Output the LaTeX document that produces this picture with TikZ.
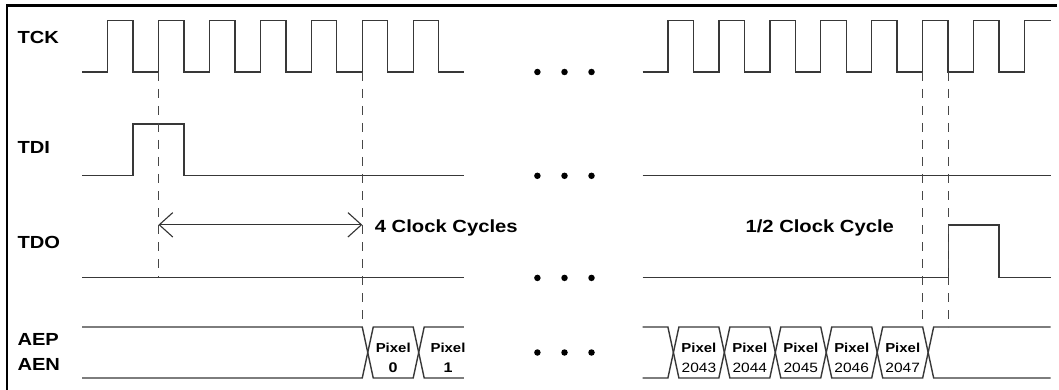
\documentclass[tikz,border=0pt]{standalone}
\usepackage{fontspec}
\newfontfamily\sigfont{Liberation Sans}[FakeStretch=1.15]
\usetikzlibrary{arrows.meta}
\begin{document}
\begin{tikzpicture}[x=1pt,y=-1pt,
  sig/.style={line width=1.4pt, draw=black!78, line join=miter},
  guide/.style={line width=1.2pt, draw=black!72, dash pattern=on 9pt off 8pt},
  lab/.style={inner sep=0pt, anchor=base west, font=\sigfont\fontsize{17.5}{17.5}\selectfont\bfseries},
  note/.style={inner sep=0pt, anchor=base west, font=\sigfont\fontsize{17.6}{17.6}\selectfont\bfseries},
  pixb/.style={inner sep=0pt, anchor=base, font=\sigfont\fontsize{13}{13}\selectfont\bfseries},
  pixd/.style={inner sep=0pt, anchor=base, font=\sigfont\fontsize{14}{14}\selectfont\bfseries},
  pixn/.style={inner sep=0pt, anchor=base, font=\sigfont\fontsize{13.5}{13.5}\selectfont},
  dot/.style={circle, fill=black, inner sep=0pt, minimum size=6.5pt}]
\useasboundingbox (0,0) rectangle (1059,390);
\fill[white] (0,0) rectangle (1059,390);
% frame
\draw[line width=2.2pt] (7,391) -- (7,5.5) -- (1057,5.5);

% labels
\node[lab] (tck) at (17.3,43.3) {TCK};
\node[lab] (tdi) at (17.3,153.8) {TDI};
\node[lab] (tdo) at (17.3,248.1) {TDO};
\node[lab] (aep) at (17.3,345) {AEP};
\node[lab] (aen) at (17.3,370.5) {AEN};

% TCK
\draw[sig] (82.2,72) foreach \k in {0,...,6} { -- ({107.5+50.95*\k},72) -- ++(0,-51.7) -- ++(25.45,0) -- ++(0,51.7) } -- (463.8,72);
\draw[sig] (642.6,72) foreach \k in {0,...,6} { -- ({667.9+50.95*\k},72) -- ++(0,-51.7) -- ++(25.45,0) -- ++(0,51.7) } -- (1024.6,72) -- (1024.6,20.3) -- (1050.6,20.3);

% TDI
\draw[sig] (82.2,175.8) -- (132.95,175.8) -- (132.95,124.1) -- (183.9,124.1) -- (183.9,175.8) -- (463.8,175.8);
\draw[sig] (642.6,175.8) -- (1050.6,175.8);

% TDO
\draw[sig] (82.2,277.2) -- (463.8,277.2);
\draw[sig] (642.6,277.2) -- (948.3,277.2) -- (948.3,224.8) -- (999.05,224.8) -- (999.05,277.2) -- (1050.6,277.2);

% AEP/AEN bus
\draw[sig] (82.2,327) -- (362.25,327) -- (373.25,378) -- (413.2,378) -- (424.2,327) -- (463.8,327);
\draw[sig] (82.2,378) -- (362.25,378) -- (373.25,327) -- (413.2,327) -- (424.2,378) -- (463.8,378);
\draw[sig] (642.6,327) -- (667.9,327) -- (678.9,378) -- (718.85,378) -- (729.85,327) -- (769.8,327) -- (780.8,378) -- (820.75,378) -- (831.75,327) -- (871.7,327) -- (882.7,378) -- (922.65,378) -- (933.65,327) -- (1050.6,327);
\draw[sig] (642.6,378) -- (667.9,378) -- (678.9,327) -- (718.85,327) -- (729.85,378) -- (769.8,378) -- (780.8,327) -- (820.75,327) -- (831.75,378) -- (871.7,378) -- (882.7,327) -- (922.65,327) -- (933.65,378) -- (1050.6,378);

% pixel labels
\node[pixb] (p0a) at (393.2,352.3) {Pixel};
\node[pixd] (p0b) at (393.2,372.3) {0};
\node[pixb] (p1a) at (448,352.3) {Pixel};
\node[pixd] (p1b) at (448,372.3) {1};
\foreach \c/\n in {698.9/2043, 749.8/2044, 800.8/2045, 851.7/2046, 902.7/2047} {
  \node[pixb] (pa\n) at (\c,352.3) {Pixel};
  \node[pixn] (pb\n) at (\c,372.3) {\n};
}

% guides
\coordinate (g1t) at (158.45,72);  \coordinate (g1b) at (158.45,277.2);
\coordinate (g2t) at (362.25,72);  \coordinate (g2b) at (362.25,327);
\coordinate (g3t) at (922.65,72);  \coordinate (g3b) at (922.65,327);
\coordinate (g4t) at (948.3,72);   \coordinate (g4b) at (948.3,327);
\draw[guide] (g1t) -- (g1b);
\draw[guide] (g2t) -- (g2b);
\draw[guide] (g3t) -- (g3b);
\draw[guide] (g4t) -- (g4b);

% arrow
\coordinate (a1) at (158.45,224.8);
\coordinate (a2) at (362.25,224.8);
\draw[line width=1.1pt, draw=black!80, {Straight Barb[length=13.5pt,width=24.4pt]}-{Straight Barb[length=13.5pt,width=24.4pt]}] (a1) -- (a2);
\node[note] (c4) at (374.6,232.3) {4 Clock Cycles};
\node[note] (ch) at (745.3,232.3) {1/2 Clock Cycle};

% ellipsis dots
\foreach \y [count=\i] in {72,175.8,277.9,352.5} {
  \node[dot] (d\i a) at (537.4,\y) {};
  \node[dot] (d\i b) at (564.5,\y) {};
  \node[dot] (d\i c) at (591.5,\y) {};
}
\end{tikzpicture}
\end{document}
